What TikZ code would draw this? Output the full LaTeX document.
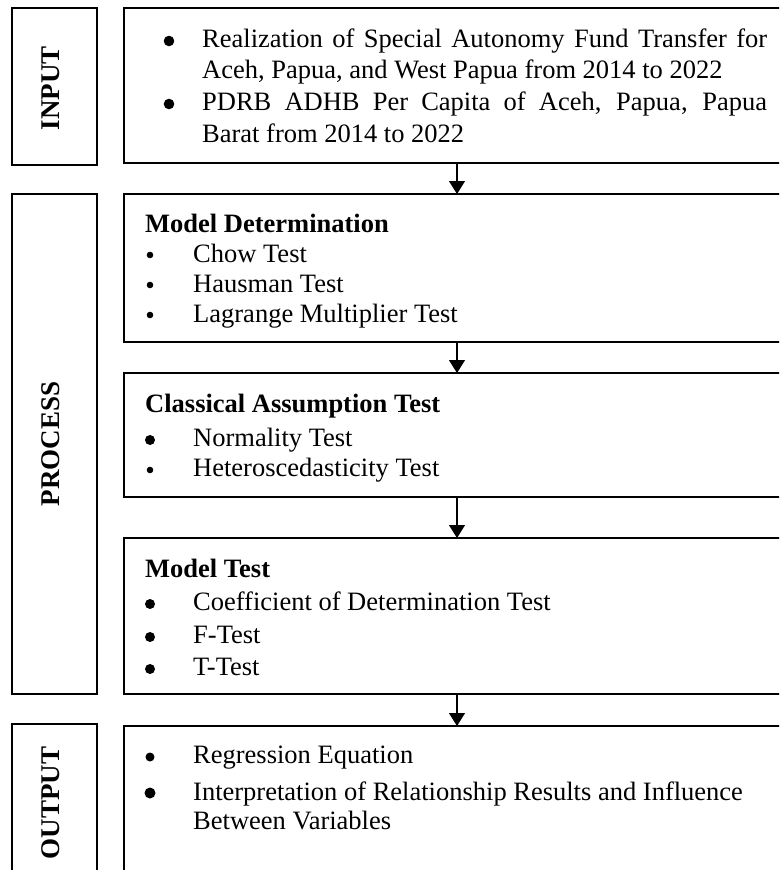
\documentclass[tikz,border=0pt]{standalone}
\usepackage{fontspec}
\setmainfont{Liberation Serif}
\usetikzlibrary{arrows.meta}
\begin{document}
\begin{tikzpicture}[x=1pt,y=-1pt,
  box/.style={draw=black, line width=1.6pt, rectangle, anchor=north west, inner sep=0pt, outer sep=0pt},
  lbl/.style={font=\fontsize{27}{30}\selectfont\bfseries, rotate=90, inner sep=0pt, anchor=center},
  txt/.style={font=\fontsize{26.5}{31}\selectfont, anchor=base west, inner sep=0pt},
  head/.style={font=\fontsize{26.5}{31}\selectfont\bfseries, anchor=base west, inner sep=0pt},
  arr/.style={line width=1.2pt, -{Triangle[width=16pt,length=13pt]}},
]
\clip (0,0) rectangle (779,870);
\fill[white] (0,0) rectangle (779,870);

% label boxes
\node[box, minimum width=85pt, minimum height=157pt] (inl) at (12,8) {};
\node[box, minimum width=85pt, minimum height=500pt] (prl) at (12,194) {};
\node[box, minimum width=85pt, minimum height=170pt] (oul) at (12,724) {};
\node[lbl] (inlt) at (51,88) {INPUT};
\node[lbl] (prlt) at (51,444) {PROCESS};
\node[lbl] (oult) at (51,803) {OUTPUT};

% content boxes
\node[box, minimum width=666pt, minimum height=155pt] (in) at (124,8) {};
\node[box, minimum width=666pt, minimum height=148pt] (md) at (124,194) {};
\node[box, minimum width=666pt, minimum height=124pt] (ca) at (124,373) {};
\node[box, minimum width=666pt, minimum height=156pt] (mt) at (124,538) {};
\node[box, minimum width=666pt, minimum height=170pt] (ou) at (124,726) {};

% arrows
\draw[arr] (in.south) -- (md.north);
\draw[arr] (md.south) -- (ca.north);
\draw[arr] (ca.south) -- (mt.north);
\draw[arr] (mt.south) -- (ou.north);

% input text
\fill (169,41) circle (5.3);
\fill (169,104) circle (5.3);
\node[txt] (i1) at (202,47) {\makebox[565pt][s]{Realization of Special Autonomy Fund Transfer for}};
\node[txt] (i2) at (202,78) {Aceh, Papua, and West Papua from 2014 to 2022};
\node[txt] (i3) at (202,110) {\makebox[565pt][s]{PDRB ADHB Per Capita of Aceh, Papua, Papua}};
\node[txt] (i4) at (202,142) {Barat from 2014 to 2022};

% model determination
\node[head] (mdh) at (145,232) {Model Determination};
\fill (150,255) circle (3.3);
\fill (150,285) circle (3.3);
\fill (150,315) circle (3.3);
\node[txt] (md1) at (193,262) {Chow Test};
\node[txt] (md2) at (193,292) {Hausman Test};
\node[txt] (md3) at (193,322) {Lagrange Multiplier Test};

% classical assumption
\node[head] (cah) at (145,412) {Classical Assumption Test};
\fill (150,440) circle (5);
\fill (150,470) circle (3.3);
\node[txt] (ca1) at (193,446) {Normality Test};
\node[txt] (ca2) at (193,476) {Heteroscedasticity Test};

% model test
\node[head] (mth) at (145,577) {Model Test};
\fill (150,604) circle (5);
\fill (150,637) circle (5);
\fill (150,669) circle (5);
\node[txt] (mt1) at (193,610) {Coefficient of Determination Test};
\node[txt] (mt2) at (193,643) {F-Test};
\node[txt] (mt3) at (193,675) {T-Test};

% output
\fill (150,757) circle (4.5);
\fill (150,793) circle (5.5);
\node[txt] (o1) at (193,763) {Regression Equation};
\node[txt] (o2) at (193,800) {Interpretation of Relationship Results and Influence};
\node[txt] (o3) at (193,829) {Between Variables};
\end{tikzpicture}
\end{document}
